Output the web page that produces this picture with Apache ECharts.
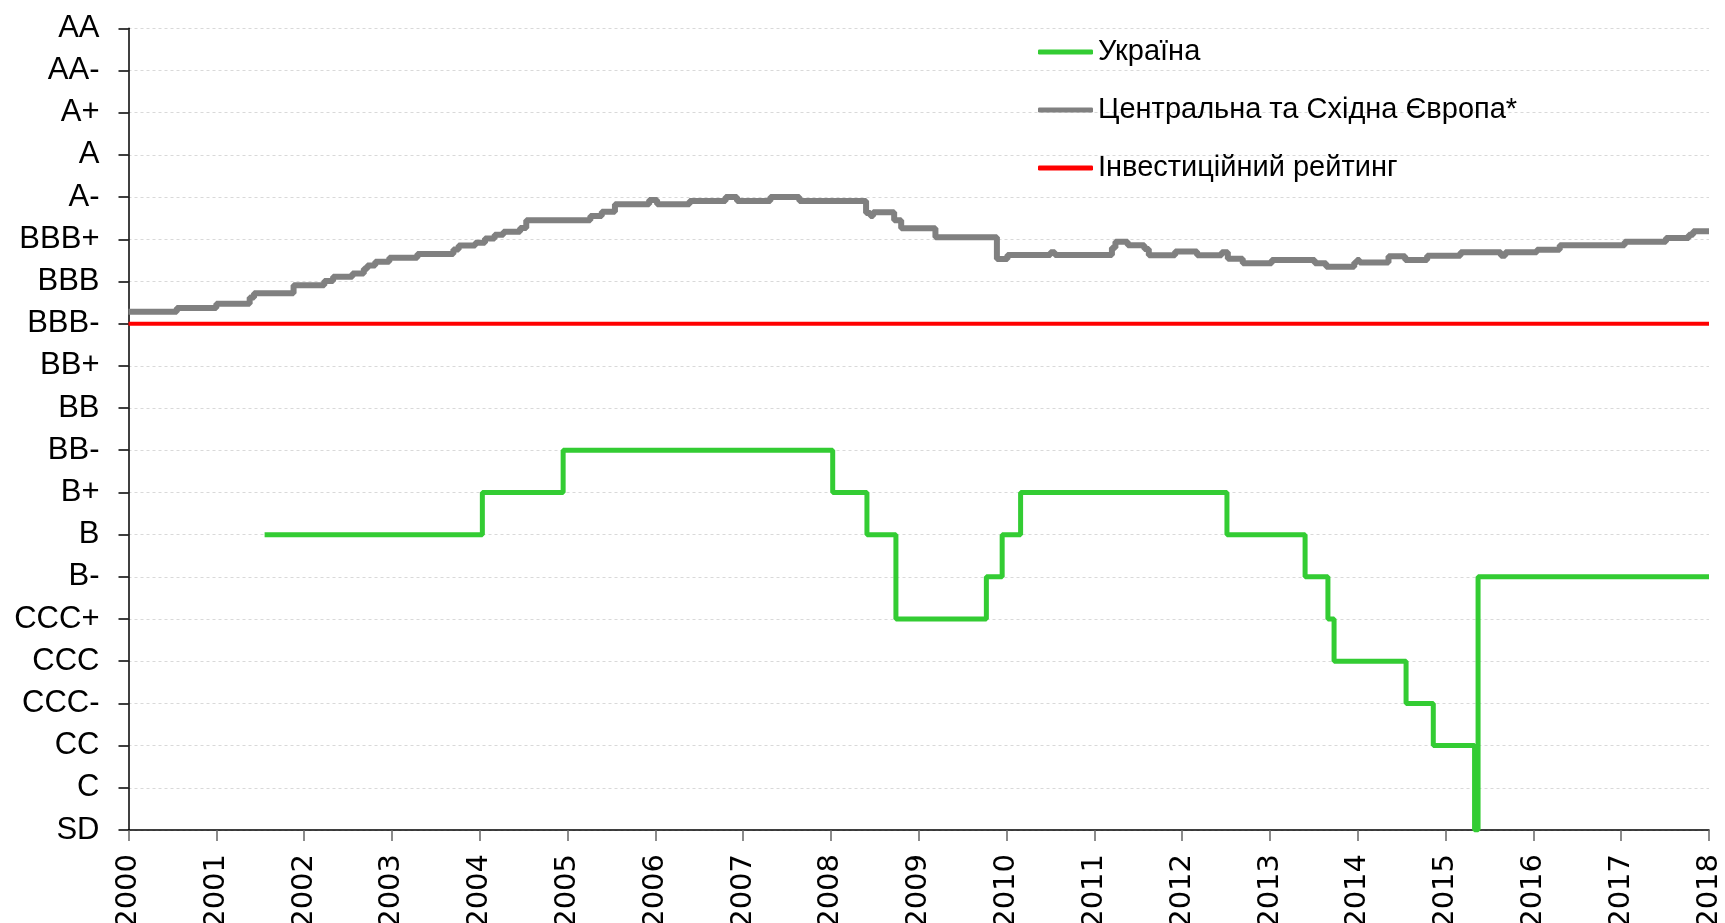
<!DOCTYPE html>
<html>
<head>
<meta charset="utf-8">
<script src="https://cdn.jsdelivr.net/npm/echarts@6/dist/echarts.min.js"></script>
<style>
  html, body { margin: 0; padding: 0; background: #fff; }
  #chart { width: 1725px; height: 923px; }
</style>
</head>
<body>
<div id="chart"></div>
<script>
// rating scale, 0 = SD ... 19 = AA
const ratingLabels = ['SD', 'C', 'CC', 'CCC-', 'CCC', 'CCC+', 'B-', 'B', 'B+', 'BB-', 'BB',
  'BB+', 'BBB-', 'BBB', 'BBB+', 'A-', 'A', 'A+', 'AA-', 'AA'];

const seriesNames = ['Україна', 'Центральна та Східна Європа*', 'Інвестиційний рейтинг'];

// Ukraine: dates where the rating changes
const uaYears = [2001.55, 2004.03, 2004.95, 2008.02, 2008.41, 2008.74, 2009.77, 2009.95, 2010.16,
  2012.51, 2013.40, 2013.66, 2013.73, 2014.55, 2014.86, 2015.33, 2015.37, 2018.0];
const uaValues = [7, 8, 9, 8, 7, 5, 6, 7, 8, 7, 6, 5, 4, 3, 2, 0, 6, 6];

// CEE average rating
const ceeYears = [2000.0, 2000.55, 2001.0, 2001.38, 2001.43, 2001.88, 2002.23, 2002.33, 2002.55,
  2002.68, 2002.72, 2002.81, 2002.97, 2003.29, 2003.70, 2003.76, 2003.95, 2004.06, 2004.17,
  2004.27, 2004.46, 2004.53, 2005.26, 2005.39, 2005.54, 2005.93, 2006.02, 2006.39, 2006.80,
  2006.93, 2007.31, 2007.64, 2008.40, 2008.45, 2008.48, 2008.72, 2008.80, 2009.19, 2009.89,
  2010.01, 2010.50, 2010.55, 2011.20, 2011.24, 2011.38, 2011.57, 2011.62, 2011.92, 2012.17,
  2012.45, 2012.52, 2012.69, 2013.02, 2013.51, 2013.64, 2013.96, 2013.99, 2014.02, 2014.35,
  2014.54, 2014.79, 2015.17, 2015.63, 2015.68, 2016.04, 2016.30, 2017.04, 2017.51, 2017.77,
  2017.82, 2018.0];
const ceeValues = [12.28, 12.37, 12.47, 12.62, 12.72, 12.91, 13.01, 13.11, 13.19,
  13.30, 13.38, 13.47, 13.56, 13.65, 13.76, 13.85, 13.92, 14.02, 14.11,
  14.18, 14.27, 14.45, 14.55, 14.65, 14.83, 14.93, 14.83, 14.91, 15.0,
  14.91, 15.0, 14.91, 14.62, 14.55, 14.64, 14.45, 14.26, 14.05, 13.53,
  13.63, 13.69, 13.63, 13.80, 13.94, 13.86, 13.77, 13.62, 13.71, 13.62,
  13.69, 13.54, 13.43, 13.51, 13.43, 13.35, 13.45, 13.51, 13.45, 13.60,
  13.51, 13.61, 13.69, 13.61, 13.69, 13.75, 13.86, 13.94, 14.03, 14.11,
  14.19, 14.19];

// investment grade threshold (BBB-)
const invYears = [2000, 2018];
const invValues = [12, 12];

const pairs = (xs, ys) => xs.map((x, i) => [x, ys[i]]);

const chart = echarts.init(document.getElementById('chart'), null, { renderer: 'canvas' });

const labelFont = '"Liberation Sans", Arial, sans-serif';

const option = {
  animation: false,
  backgroundColor: '#fff',
  grid: { left: 128.5, right: 16, top: 28.3, bottom: 93, containLabel: false, outerBoundsMode: 'none' },
  legend: {
    orient: 'vertical',
    left: 1033,
    top: 31,
    itemWidth: 55,
    itemHeight: 5,
    itemGap: 26,
    icon: 'roundRect',
    data: seriesNames,
    textStyle: { fontFamily: labelFont, fontSize: 29, color: '#000', lineHeight: 32 }
  },
  xAxis: {
    type: 'value',
    min: 2000,
    max: 2018,
    interval: 1,
    axisLine: { lineStyle: { color: '#000', width: 1.5 } },
    axisTick: { length: 11, lineStyle: { color: '#666', width: 1.5 } },
    splitLine: { show: false },
    axisLabel: {
      rotate: 90,
      margin: 24,
      fontFamily: 'DejaVu Sans',
      fontSize: 29,
      color: '#000',
      formatter: v => String(v)
    }
  },
  yAxis: {
    type: 'value',
    min: 0,
    max: 19,
    interval: 1,
    axisLine: { show: true, lineStyle: { color: '#000', width: 1.5 } },
    axisTick: { show: true, length: 10, lineStyle: { color: '#000', width: 1.5 } },
    splitLine: { show: true, lineStyle: { color: '#d9d9d9', type: [3, 3], width: 1 } },
    axisLabel: {
      margin: 29,
      fontFamily: labelFont,
      fontSize: 31,
      color: '#000',
      formatter: v => ratingLabels[v]
    }
  },
  series: [
    {
      name: seriesNames[0],
      type: 'line',
      step: 'end',
      symbol: 'none',
      color: '#33cc33',
      lineStyle: { color: '#33cc33', width: 5 },
      data: pairs(uaYears, uaValues),
      z: 4
    },
    {
      name: seriesNames[1],
      type: 'line',
      step: 'end',
      symbol: 'none',
      color: '#808080',
      lineStyle: { color: '#808080', width: 6 },
      data: pairs(ceeYears, ceeValues),
      z: 3
    },
    {
      name: seriesNames[2],
      type: 'line',
      symbol: 'none',
      color: '#ff0000',
      lineStyle: { color: '#ff0000', width: 4 },
      data: pairs(invYears, invValues),
      z: 2
    }
  ]
};

chart.setOption(option);
</script>
</body>
</html>
